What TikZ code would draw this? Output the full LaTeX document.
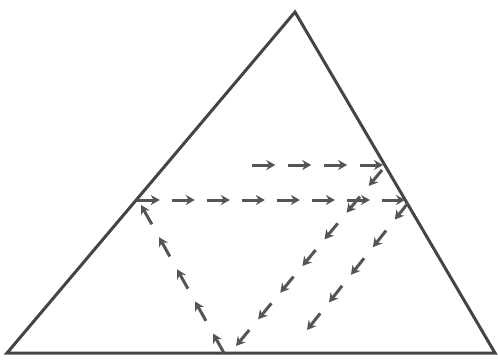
\documentclass[tikz,border=0pt]{standalone}
\usetikzlibrary{calc,arrows.meta}
\definecolor{ink}{HTML}{444444}
\definecolor{arrink}{HTML}{555555}
\tikzset{
  edge/.style={draw=ink,line width=3pt,line join=miter},
  arr/.style={draw=arrink,line width=3pt,-{Stealth[length=9pt,width=10pt]}},
}
\newcommand{\arrline}[4]{% A, B, n, f
  \pgfmathsetmacro{\den}{#3-1+#4}
  \pgfmathtruncatemacro{\last}{#3-1}
  \foreach \k in {0,...,\last}{
    \pgfmathsetmacro{\ta}{\k/\den}
    \pgfmathsetmacro{\tb}{(\k+#4)/\den}
    \draw[arr] ($(#1)!\ta!(#2)$) -- ($(#1)!\tb!(#2)$);
  }
}
\begin{document}
\begin{tikzpicture}[x=1pt,y=-1pt]
\useasboundingbox (0,0) rectangle (498,360);
\coordinate (apex) at (295,12);
\coordinate (bl) at (7,353);
\coordinate (br) at (495,353);
\draw[edge] (apex) -- (bl) -- (br) -- cycle;
% upper horizontal
\coordinate (u1) at (252,165);
\coordinate (u2) at (383,165);
\arrline{u1}{u2}{4}{0.65}
% lower horizontal
\coordinate (h1) at (137,200);
\coordinate (h2) at (405,200);
\arrline{h1}{h2}{8}{0.65}
% diagonal from upper right
\coordinate (d1) at (382,170);
\coordinate (d2) at (236,346);
\arrline{d1}{d2}{7}{0.6}
% diagonal from right edge
\coordinate (e1) at (408,203);
\coordinate (e2) at (307,330);
\arrline{e1}{e2}{5}{0.6}
% left rising line
\coordinate (l1) at (224,353);
\coordinate (l2) at (141,205);
\arrline{l1}{l2}{5}{0.6}
\end{tikzpicture}
\end{document}
